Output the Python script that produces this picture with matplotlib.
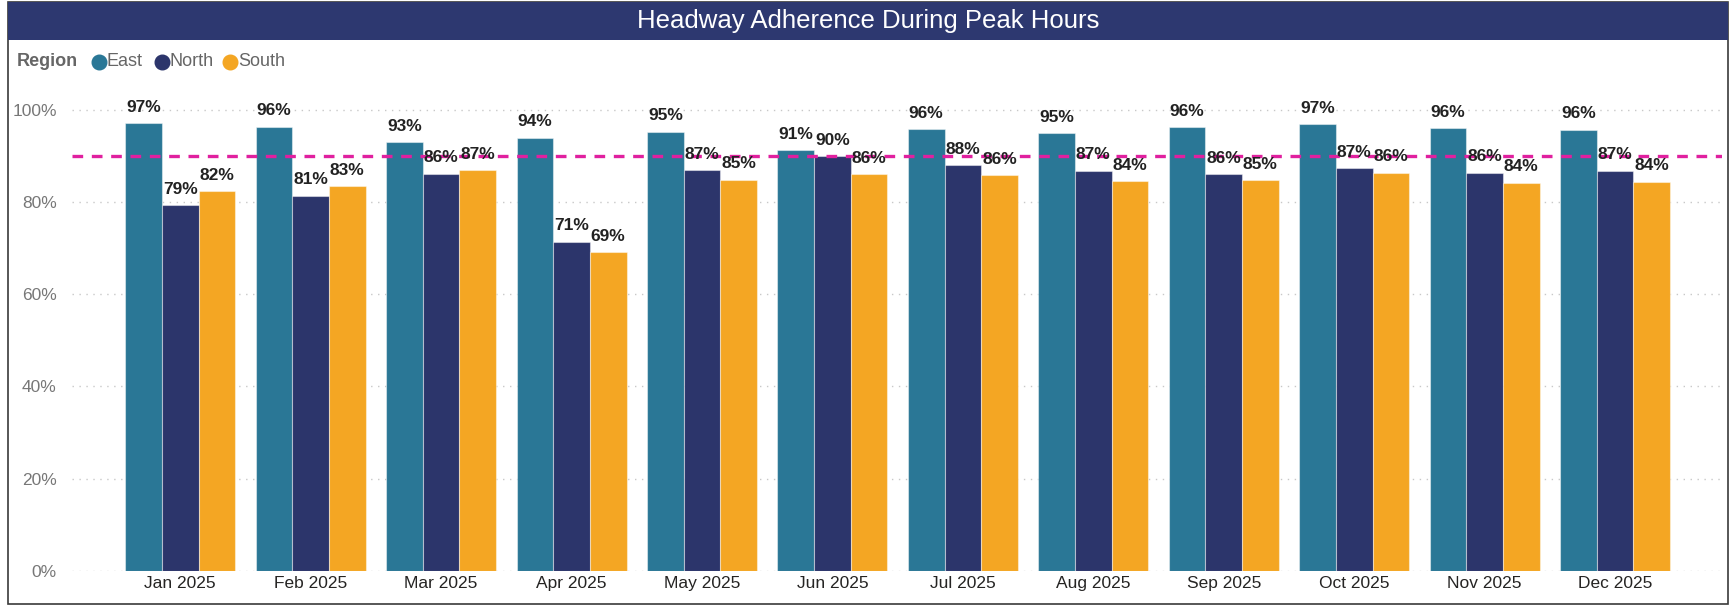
import numpy as np
import matplotlib
matplotlib.use("Agg")
import matplotlib.pyplot as plt
from matplotlib.lines import Line2D
from matplotlib.patches import Rectangle
from matplotlib.ticker import FuncFormatter

months = ["Jan 2025", "Feb 2025", "Mar 2025", "Apr 2025", "May 2025", "Jun 2025",
          "Jul 2025", "Aug 2025", "Sep 2025", "Oct 2025", "Nov 2025", "Dec 2025"]
regions = ["East", "North", "South"]
east = [0.971, 0.964, 0.930, 0.940, 0.953, 0.913, 0.958, 0.950, 0.962, 0.969, 0.961, 0.957]
north = [0.794, 0.814, 0.862, 0.714, 0.870, 0.900, 0.880, 0.868, 0.861, 0.873, 0.864, 0.868]
south = [0.824, 0.834, 0.870, 0.692, 0.849, 0.861, 0.858, 0.845, 0.847, 0.864, 0.842, 0.844]
target = 0.90

colors = ["#2A7796", "#2C356B", "#F4A623"]
W, H, DPI = 1733, 606, 100

plt.rcParams['font.family'] = ['Liberation Sans', 'DejaVu Sans']

fig = plt.figure(figsize=(W / DPI, H / DPI), dpi=DPI)

def px(x, y):
    # pixel coords (from top-left) -> figure fraction
    return x / W, 1 - y / H

# frame and title bar
fig.add_artist(Rectangle(px(8, 604), 1720 / W, 602 / H, transform=fig.transFigure,
                         fill=False, edgecolor="#3a3a3a", lw=1.2))
fig.add_artist(Rectangle(px(8, 40), 1720 / W, 38 / H, transform=fig.transFigure,
                         facecolor="#2D3870", edgecolor="none"))
fig.text(*px(868, 21), "Headway Adherence During Peak Hours", color="white",
         fontsize=18.5, ha="center", va="center")

# legend
fig.text(*px(17, 62), "Region", fontsize=13, fontweight="bold", color="#666666",
         ha="left", va="center")
for name, c, cx in zip(regions, colors, [99, 162, 230]):
    fig.add_artist(Line2D([cx / W], [1 - 62 / H], marker="o", markersize=10.5,
                          color=c, linestyle="none", transform=fig.transFigure))
    fig.text(*px(cx + 8, 62), name, fontsize=13, color="#666666", ha="left", va="center")

ax = fig.add_axes([72 / W, (H - 570.7) / H, (1722 - 72) / W, 493 / H])
x = np.arange(len(months))
bw = 0.281
for i, (vals, c) in enumerate(zip([east, north, south], colors)):
    bars = ax.bar(x + (i - 1) * bw, vals, width=bw, color=c,
                  edgecolor=(1, 1, 1, 0.45), linewidth=0.8, zorder=2)
    for b, v in zip(bars, vals):
        ax.annotate(f"{v:.0%}", (b.get_x() + b.get_width() / 2, v),
                    xytext=(0, 6), textcoords="offset points", ha="center", va="bottom",
                    fontsize=12.5, fontweight="bold", color="#222222", zorder=4)

ax.axhline(target, color="#E0209F", lw=2.4, dashes=(3.2, 2.6), zorder=3)

ax.set_xlim(-0.83, len(months) - 1 + 0.82)
ax.set_ylim(0, 1.07)
ax.set_yticks(np.arange(0, 1.01, 0.2))
ax.yaxis.set_major_formatter(FuncFormatter(lambda v, p: f"{v:.0%}"))
ax.set_xticks(x)
ax.set_xticklabels(months)
ax.tick_params(axis="y", length=0, pad=11, labelsize=12.5, labelcolor="#777777")
ax.tick_params(axis="x", length=0, pad=4, labelsize=12.5, labelcolor="#252423")
ax.grid(axis="y", color="#C8C8C8", linestyle=(0, (1, 4)), lw=1, zorder=0)
for s in ax.spines.values():
    s.set_visible(False)

fig.savefig("out.png", dpi=DPI)
